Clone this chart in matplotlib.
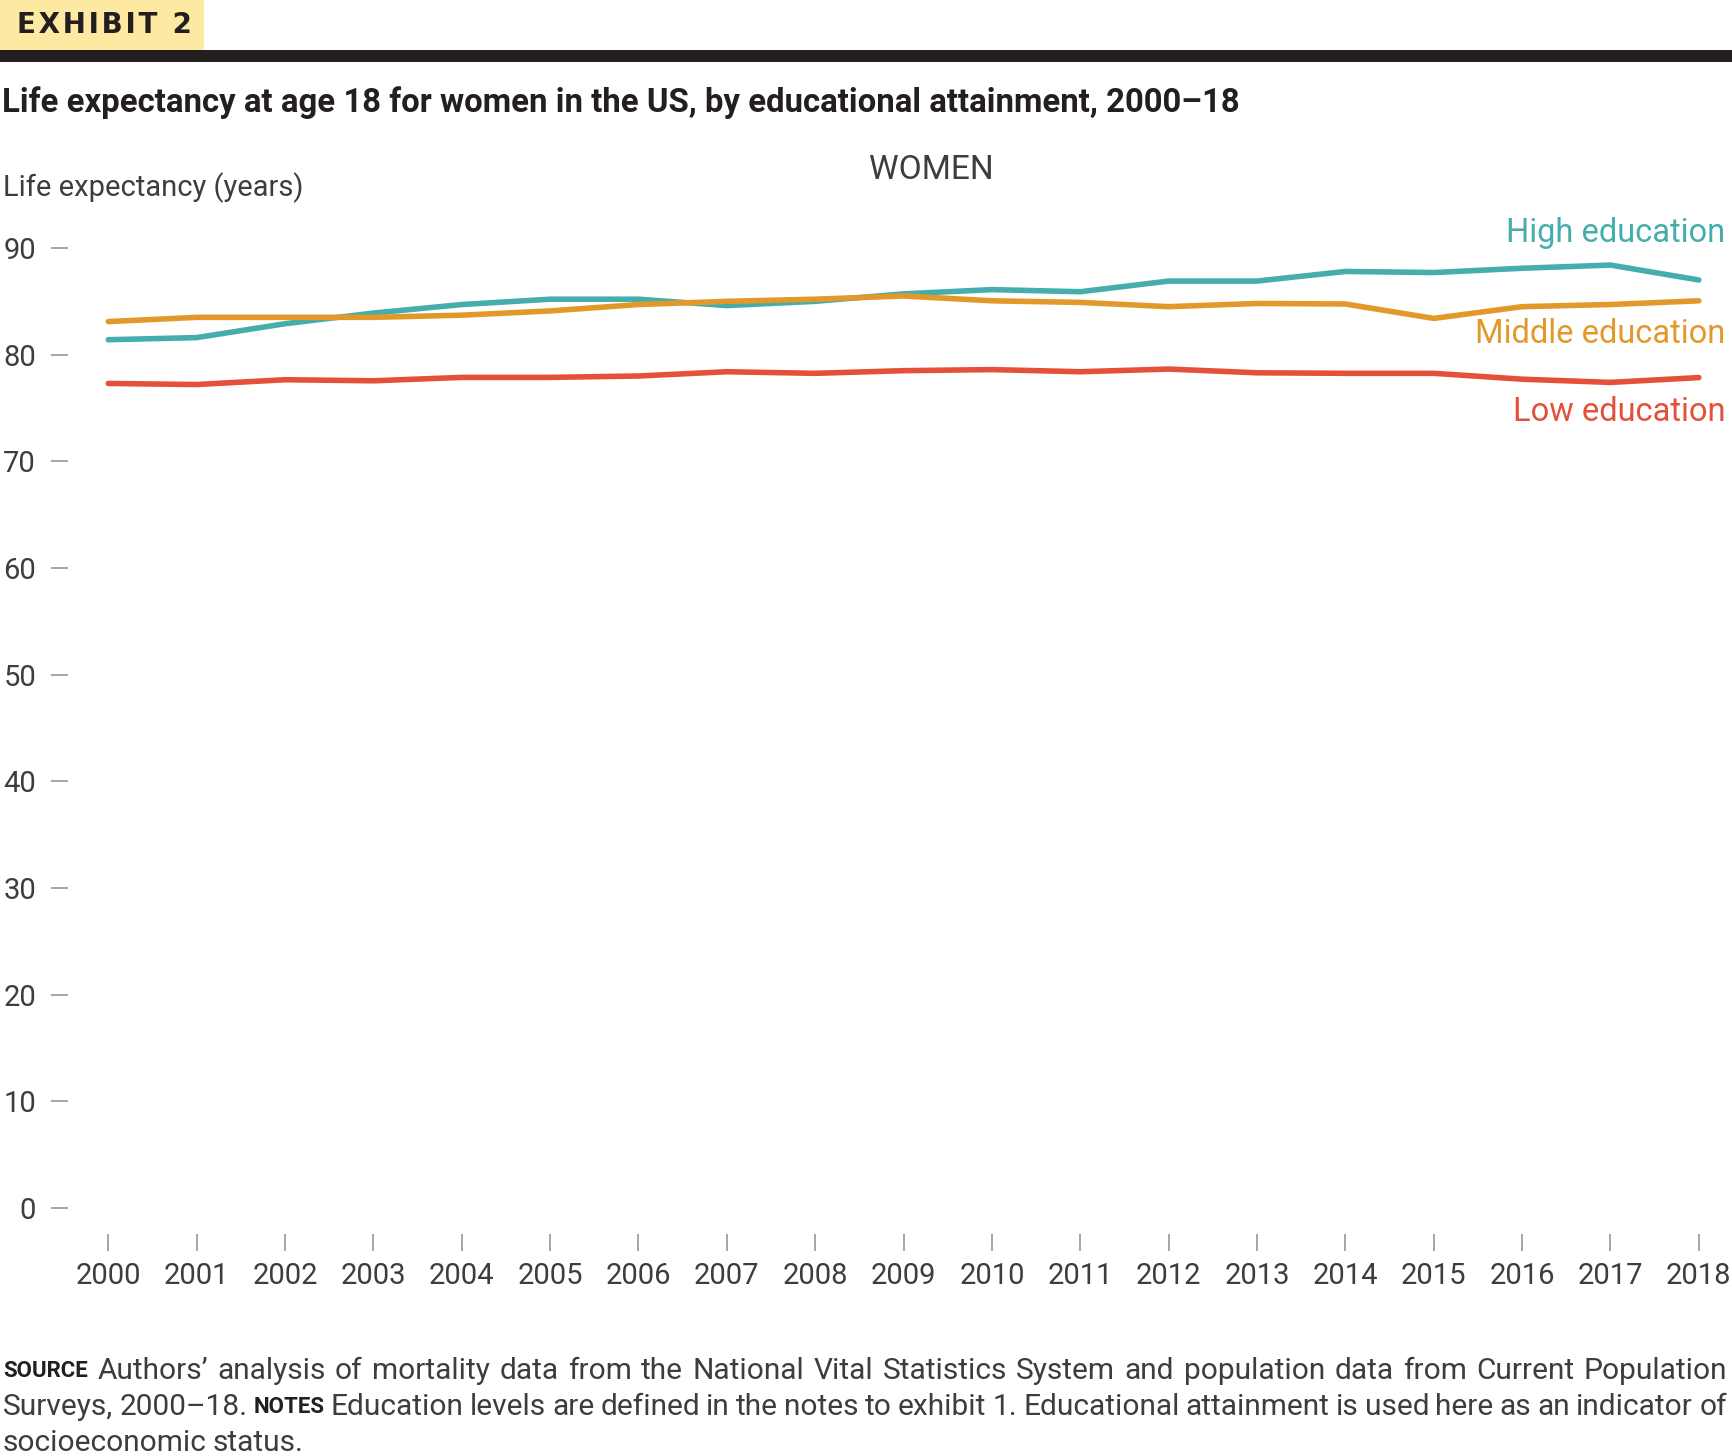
import matplotlib
matplotlib.use('Agg')
import matplotlib.pyplot as plt
from matplotlib.patches import Rectangle

# Data
years = list(range(2000, 2019))
high_edu = [81.4, 81.6, 82.9, 83.9, 84.7, 85.2, 85.2, 84.6, 85.0, 85.7,
            86.1, 85.9, 86.9, 86.9, 87.8, 87.7, 88.1, 88.4, 87.0]
middle_edu = [83.1, 83.5, 83.5, 83.5, 83.7, 84.1, 84.7, 85.0, 85.2, 85.5,
              85.05, 84.9, 84.5, 84.8, 84.75, 83.4, 84.5, 84.7, 85.05]
low_edu = [77.3, 77.2, 77.65, 77.55, 77.87, 77.87, 78.0, 78.4, 78.25, 78.5,
           78.6, 78.4, 78.65, 78.3, 78.25, 78.25, 77.7, 77.4, 77.85]
series_names = ['High education', 'Middle education', 'Low education']
yticks = list(range(0, 100, 10))

TEAL = '#45AEAD'
ORANGE = '#E3992A'
RED = '#E5503A'
DARK = '#231F20'
GREY_TXT = '#3d3d3d'
TICK_GREY = '#a6a6a6'

plt.rcParams['font.family'] = ['Roboto', 'DejaVu Sans']

W, H = 1732, 1456
fig = plt.figure(figsize=(W / 100, H / 100), dpi=100)

# Header: yellow exhibit box and black rule
fig.add_artist(Rectangle((0, 1 - 50 / H), 204 / W, 50 / H, transform=fig.transFigure,
                         facecolor='#FDE9A1', edgecolor='none'))
fig.add_artist(Rectangle((0, 1 - 62 / H), 1, 12 / H, transform=fig.transFigure,
                         facecolor=DARK, edgecolor='none'))
fig.text(17 / W, 1 - 25 / H, '\u200a'.join('EXHIBIT') + '\u2009 2', fontsize=20,
         fontweight='heavy', family=['DejaVu Sans'], color=DARK, va='center', ha='left')

fig.text(2 / W, 1 - 103 / H,
         'Life expectancy at age 18 for women in the US, by educational attainment, 2000\u201318',
         fontsize=23.7, fontweight='bold', color=DARK, va='center', ha='left')
fig.text(931 / W, 1 - 170 / H, 'WOMEN', fontsize=24, color=GREY_TXT, va='center', ha='center')
fig.text(3 / W, 1 - 188 / H, 'Life expectancy (years)', fontsize=21, color=GREY_TXT,
         va='center', ha='left')

# Plot area
ax = fig.add_axes([68 / W, 222 / H, 1 - 68 / W, 1034 / H])
ax.plot(years, high_edu, color=TEAL, lw=4, solid_capstyle='round', solid_joinstyle='round')
ax.plot(years, middle_edu, color=ORANGE, lw=4, solid_capstyle='round', solid_joinstyle='round')
ax.plot(years, low_edu, color=RED, lw=4, solid_capstyle='round', solid_joinstyle='round')

ax.set_xlim(1999.544, 2018.375)
ax.set_ylim(-2.44, 94.5)
ax.set_xticks(years)
ax.set_yticks(yticks)
ax.tick_params(axis='y', length=12, width=1.4, color=TICK_GREY, pad=11,
               labelsize=21, labelcolor=GREY_TXT)
ax.tick_params(axis='x', length=12, width=1.4, color=TICK_GREY, pad=8,
               labelsize=21, labelcolor=GREY_TXT)
for s in ax.spines.values():
    s.set_visible(False)
ax.patch.set_visible(False)

# Direct labels
label_y = [91.4, 81.9, 74.6]
for name, col, yy in zip(series_names, [TEAL, ORANGE, RED], label_y):
    ax.text(2018.3, yy, name, color=col, fontsize=23.5, ha='right', va='center')

# Footer with justified lines
renderer = fig.canvas.get_renderer()


def put_line(y_px, parts, justify):
    words = []
    for txt, bold in parts:
        for w in txt.split(' '):
            if w:
                words.append((w, bold))
    arts = []
    for w, bold in words:
        if bold:
            a = fig.text(0, 1 - y_px / H, w, fontsize=16, fontweight='bold', color=DARK,
                         va='center', ha='left')
        else:
            a = fig.text(0, 1 - y_px / H, w, fontsize=21.5, color=GREY_TXT, va='center', ha='left')
        arts.append(a)
    widths = [a.get_window_extent(renderer).width for a in arts]
    if justify:
        gap = (1727 - 3 - sum(widths)) / (len(arts) - 1)
    else:
        gap = 6
    x = 3
    for a, wd in zip(arts, widths):
        a.set_x(x / W)
        x += wd + gap


put_line(1371, [('SOURCE', True), ("Authors\u2019 analysis of mortality data from the National Vital "
                                   "Statistics System and population data from Current Population", False)], True)
put_line(1407, [('Surveys, 2000\u201318.', False), ('NOTES', True),
                ('Education levels are defined in the notes to exhibit 1. Educational attainment '
                 'is used here as an indicator of', False)], True)
put_line(1443, [('socioeconomic status.', False)], False)

fig.savefig('out.png', dpi=100)
